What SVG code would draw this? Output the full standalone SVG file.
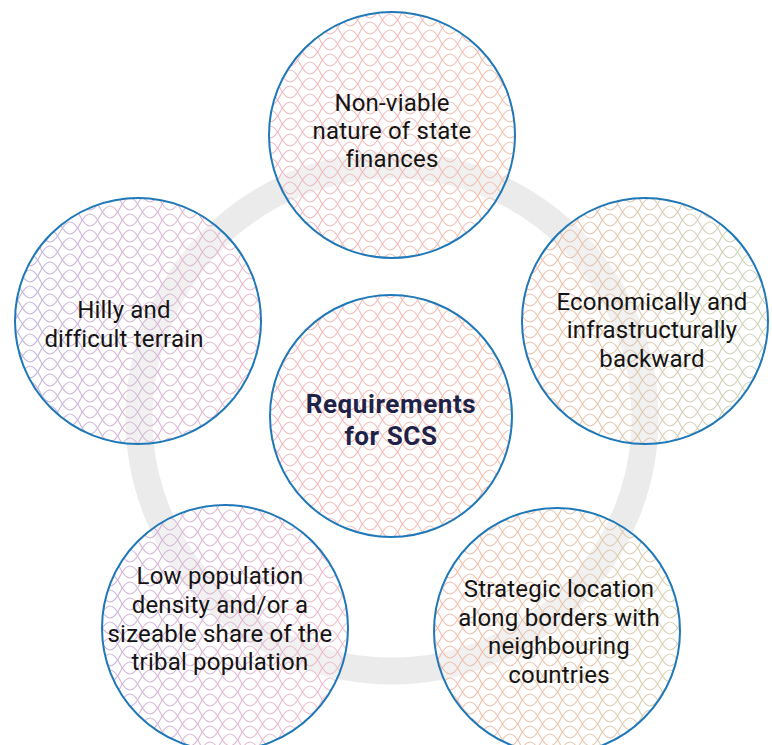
<svg xmlns="http://www.w3.org/2000/svg" width="772" height="745" viewBox="0 0 772 745">
<style>
.lbl{font-family:Roboto,"Liberation Sans",sans-serif;font-size:24px;letter-spacing:0.2px;fill:#141414;text-anchor:middle}
.hub{font-family:Roboto,"Liberation Sans",sans-serif;font-size:26px;letter-spacing:0.6px;font-weight:bold;fill:#1e2248;text-anchor:middle}
.edge{fill:none;stroke:#1f78b8;stroke-width:2}
.base{fill:#ffffff;fill-opacity:0.3}
</style>
<defs>
<path id="wa" d="M0 0 c7.2 -13.3 12.8 -13.3 20 0 c7.2 13.3 12.8 13.3 20 0 c7.2 -13.3 12.8 -13.3 20 0 c7.2 13.3 12.8 13.3 20 0 c7.2 -13.3 12.8 -13.3 20 0 c7.2 13.3 12.8 13.3 20 0"/>
<pattern id="waves" patternUnits="userSpaceOnUse" width="40" height="16">
<g fill="none" stroke="#fff" stroke-width="1.1">
<use href="#wa" x="-60" y="-8"/>
<use href="#wa" x="-40" y="0"/>
<use href="#wa" x="-60" y="8"/>
<use href="#wa" x="-40" y="16"/>
<use href="#wa" x="-60" y="24"/>
</g>
</pattern>
<mask id="wm" maskUnits="userSpaceOnUse" x="0" y="0" width="772" height="745">
<rect width="772" height="745" fill="url(#waves)"/>
</mask>
<linearGradient id="gTop" x1="0" y1="0" x2="1" y2="0"><stop offset="0" stop-color="#ecb8c4"/><stop offset="1" stop-color="#f2c2ae"/></linearGradient>
<linearGradient id="gLeft" x1="0" y1="0" x2="1" y2="0"><stop offset="0" stop-color="#c0b2da"/><stop offset="1" stop-color="#ecbacc"/></linearGradient>
<linearGradient id="gRight" x1="0" y1="0" x2="1" y2="0"><stop offset="0" stop-color="#eebda9"/><stop offset="1" stop-color="#ccd4b9"/></linearGradient>
<linearGradient id="gCenter" x1="0" y1="0" x2="1" y2="0"><stop offset="0" stop-color="#f0b9bf"/><stop offset="1" stop-color="#f2c0ae"/></linearGradient>
<linearGradient id="gBL" x1="0" y1="0" x2="1" y2="0"><stop offset="0" stop-color="#cbb2da"/><stop offset="1" stop-color="#f1bcc9"/></linearGradient>
<linearGradient id="gBR" x1="0" y1="0" x2="1" y2="0"><stop offset="0" stop-color="#f2bbab"/><stop offset="1" stop-color="#d8d0b0"/></linearGradient>
</defs>
<rect width="772" height="745" fill="#ffffff"/>
<g id="connectors">
<circle cx="392" cy="418" r="253" fill="none" stroke="#ebebeb" stroke-width="27"/>
</g>
<g id="node-top">
<circle class="base" cx="392" cy="135" r="123"/>
<circle cx="392" cy="135" r="123" fill="url(#gTop)" mask="url(#wm)"/>
<circle class="edge" cx="392" cy="135" r="123"/>
<text class="lbl" x="392" y="111">Non-viable</text>
<text class="lbl" x="392" y="139">nature of state</text>
<text class="lbl" x="392" y="167">finances</text>
</g>
<g id="node-left">
<circle class="base" cx="138" cy="321" r="123"/>
<circle cx="138" cy="321" r="123" fill="url(#gLeft)" mask="url(#wm)"/>
<circle class="edge" cx="138" cy="321" r="123"/>
<text class="lbl" x="124" y="318">Hilly and</text>
<text class="lbl" x="124" y="347">difficult terrain</text>
</g>
<g id="node-right">
<circle class="base" cx="645" cy="321" r="123"/>
<circle cx="645" cy="321" r="123" fill="url(#gRight)" mask="url(#wm)"/>
<circle class="edge" cx="645" cy="321" r="123"/>
<text class="lbl" x="652" y="310">Economically and</text>
<text class="lbl" x="652" y="338">infrastructurally</text>
<text class="lbl" x="652" y="367">backward</text>
</g>
<g id="node-center">
<circle class="base" cx="391" cy="416" r="121"/>
<circle cx="391" cy="416" r="121" fill="url(#gCenter)" mask="url(#wm)"/>
<circle class="edge" cx="391" cy="416" r="121"/>
<text class="hub" x="391" y="413">Requirements</text>
<text class="hub" x="391" y="445">for SCS</text>
</g>
<g id="node-bottom-left">
<circle class="base" cx="225" cy="628" r="123"/>
<circle cx="225" cy="628" r="123" fill="url(#gBL)" mask="url(#wm)"/>
<circle class="edge" cx="225" cy="628" r="123"/>
<text class="lbl" x="220" y="584">Low population</text>
<text class="lbl" x="220" y="613">density and/or a</text>
<text class="lbl" x="220" y="642">sizeable share of the</text>
<text class="lbl" x="220" y="670">tribal population</text>
</g>
<g id="node-bottom-right">
<circle class="base" cx="557" cy="631" r="123"/>
<circle cx="557" cy="631" r="123" fill="url(#gBR)" mask="url(#wm)"/>
<circle class="edge" cx="557" cy="631" r="123"/>
<text class="lbl" x="559" y="597">Strategic location</text>
<text class="lbl" x="559" y="626">along borders with</text>
<text class="lbl" x="559" y="654">neighbouring</text>
<text class="lbl" x="559" y="683">countries</text>
</g>
</svg>
